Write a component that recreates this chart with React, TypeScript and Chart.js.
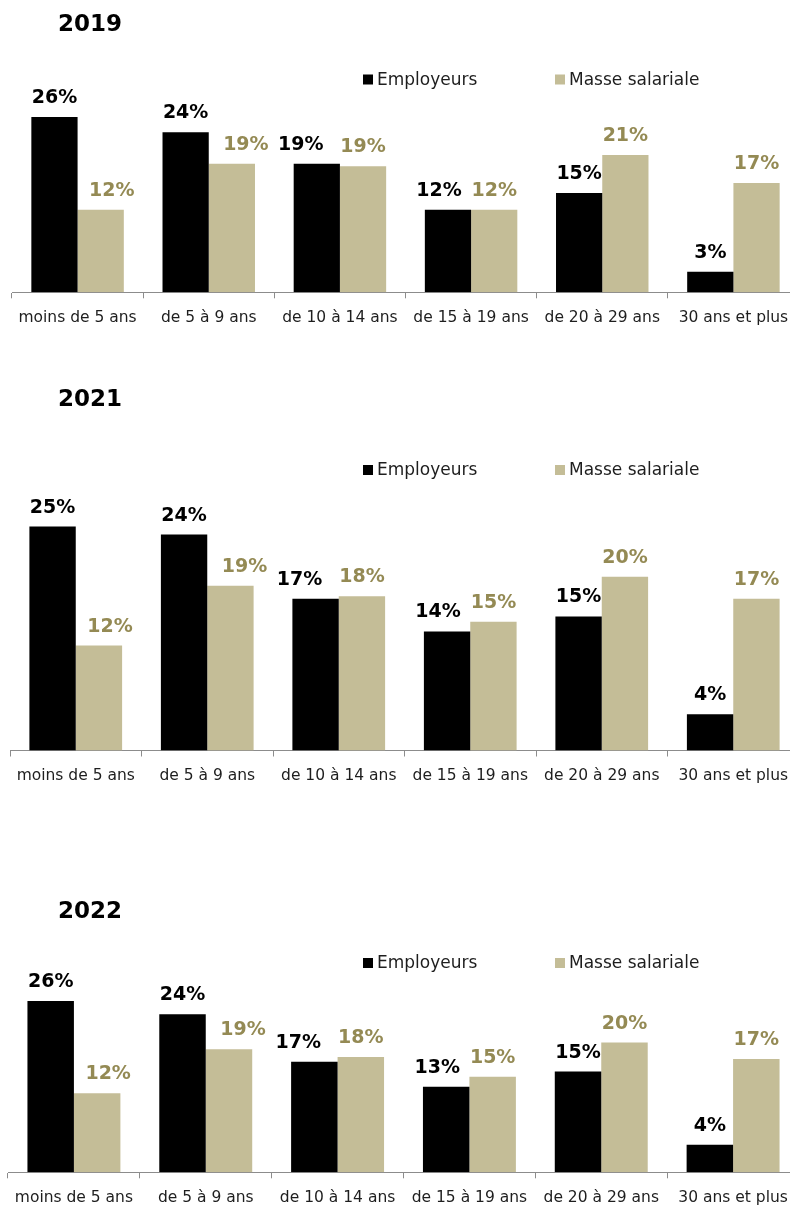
import React, { useEffect, useRef } from "react";
import { Chart, registerables } from "chart.js";

Chart.register(...registerables);

// ---------- data ----------
const categories = [
  "moins de 5 ans",
  "de 5 à 9 ans",
  "de 10 à 14 ans",
  "de 15 à 19 ans",
  "de 20 à 29 ans",
  "30 ans et plus",
];
const seriesNames = ["Employeurs", "Masse salariale"];
const years = ["2019", "2021", "2022"];

const employeurs2019 = [26.3, 24.0, 19.3, 12.4, 14.9, 3.1];
const masse2019 = [12.4, 19.3, 18.9, 12.4, 20.6, 16.4];
const employeursLabels2019 = [26, 24, 19, 12, 15, 3];
const masseLabels2019 = [12, 19, 19, 12, 21, 17];

const employeurs2021 = [25.4, 24.5, 17.2, 13.5, 15.2, 4.1];
const masse2021 = [11.9, 18.7, 17.5, 14.6, 19.7, 17.2];
const employeursLabels2021 = [25, 24, 17, 14, 15, 4];
const masseLabels2021 = [12, 19, 18, 15, 20, 17];

const employeurs2022 = [26.0, 24.0, 16.8, 13.0, 15.3, 4.2];
const masse2022 = [12.0, 18.7, 17.5, 14.5, 19.7, 17.2];
const employeursLabels2022 = [26, 24, 17, 13, 15, 4];
const masseLabels2022 = [12, 19, 18, 15, 20, 17];

// horizontal nudges of some value labels (as in the original)
const labelShiftEmployeurs = [0, 0, -16, -9, 0, 0];
const labelShiftMasse = [11, 14, 0, 0, 0, 0];

// ---------- styles ----------
const BLACK = "#000000";
const TAN = "#C4BD97";
const TAN_TEXT = "#948A54";
const AXIS = "#8C8C8C";
const TEXT = "#1E1E1E";
const FONT = "'DejaVu Sans', Verdana, sans-serif";
const TICK_LEN = 6;
const TICK_PAD = 10;
const TICK_FONT = 15.5;
const AXIS_EXTRA = 9;

const panels = [
  {
    year: years[0], emp: employeurs2019, mas: masse2019,
    empL: employeursLabels2019, masL: masseLabels2019,
    top: 0, height: 345, padLeft: 12, padTop: 100, baseline: 293.3, scale: 6.7,
    titleY: 25.5, legendY: 79.5,
  },
  {
    year: years[1], emp: employeurs2021, mas: masse2021,
    empL: employeursLabels2021, masL: masseLabels2021,
    top: 380, height: 420, padLeft: 10, padTop: 110, baseline: 371.5, scale: 8.85,
    titleY: 20.5, legendY: 90,
  },
  {
    year: years[2], emp: employeurs2022, mas: masse2022,
    empL: employeursLabels2022, masL: masseLabels2022,
    top: 880, height: 327, padLeft: 8, padTop: 100, baseline: 293.3, scale: 6.62,
    titleY: 32, legendY: 83,
  },
];

function Panel({ p }: { p: any }) {
  const ref = useRef<HTMLCanvasElement>(null);
  useEffect(() => {
    const axisH = TICK_LEN + TICK_PAD + TICK_FONT * 1.2 + AXIS_EXTRA;
    const padBottom = p.height - p.baseline - axisH;
    const yMax = (p.baseline - p.padTop) / p.scale;

    const decor = {
      id: "decor",
      afterDatasetsDraw(chart: any) {
        const ctx = chart.ctx;
        ctx.save();
        // value labels
        ctx.font = `bold 19px ${FONT}`;
        ctx.textAlign = "center";
        ctx.textBaseline = "alphabetic";
        const sets = [
          { labels: p.empL, color: BLACK, shift: labelShiftEmployeurs },
          { labels: p.masL, color: TAN_TEXT, shift: labelShiftMasse },
        ];
        sets.forEach((s, di) => {
          const meta = chart.getDatasetMeta(di);
          meta.data.forEach((bar: any, i: number) => {
            ctx.fillStyle = s.color;
            ctx.fillText(s.labels[i] + "%", bar.x + s.shift[i], bar.y - 14);
          });
        });
        // title
        ctx.textAlign = "left";
        ctx.textBaseline = "middle";
        ctx.fillStyle = "#000";
        ctx.font = `bold 23px ${FONT}`;
        ctx.fillText(p.year, 58, p.titleY);
        // legend
        ctx.font = `17px ${FONT}`;
        const items = [
          { x: 363, color: BLACK, label: chart.data.datasets[0].label },
          { x: 555, color: TAN, label: chart.data.datasets[1].label },
        ];
        items.forEach((it) => {
          ctx.fillStyle = it.color;
          ctx.fillRect(it.x, p.legendY - 5, 10, 10);
          ctx.fillStyle = TEXT;
          ctx.fillText(it.label, it.x + 14, p.legendY + 1);
        });
        ctx.restore();
      },
    };

    const chart = new Chart(ref.current as HTMLCanvasElement, {
      type: "bar",
      data: {
        labels: categories,
        datasets: [
          { label: seriesNames[0], data: p.emp, backgroundColor: BLACK, borderWidth: 0 },
          { label: seriesNames[1], data: p.mas, backgroundColor: TAN, borderWidth: 0 },
        ],
      },
      options: {
        responsive: false,
        animation: false,
        events: [],
        layout: { padding: { left: p.padLeft, right: 1, top: p.padTop, bottom: padBottom } },
        datasets: { bar: { categoryPercentage: 0.705, barPercentage: 1.0 } },
        plugins: {
          legend: { display: false },
          title: { display: false },
          tooltip: { enabled: false },
        },
        scales: {
          x: {
            offset: true,
            grid: {
              display: true,
              offset: true,
              drawOnChartArea: false,
              drawTicks: true,
              tickLength: TICK_LEN,
              color: AXIS,
              lineWidth: 1,
            },
            border: { display: true, color: AXIS, width: 1 },
            ticks: {
              color: TEXT,
              font: { family: FONT, size: TICK_FONT },
              padding: TICK_PAD,
              maxRotation: 0,
              autoSkip: false,
            },
          },
          y: { display: false, min: 0, max: yMax },
        },
      } as any,
      plugins: [decor],
    });
    return () => chart.destroy();
  }, []);
  return (
    <canvas
      ref={ref}
      width={800}
      height={p.height}
      style={{ position: "absolute", left: 0, top: p.top, display: "block" }}
    />
  );
}

export default function App() {
  return (
    <div
      style={{
        position: "absolute",
        left: 0,
        top: 0,
        width: 790,
        height: 1207,
        overflow: "hidden",
        background: "#fff",
      }}
    >
      {panels.map((p) => (
        <Panel key={p.year} p={p} />
      ))}
    </div>
  );
}
